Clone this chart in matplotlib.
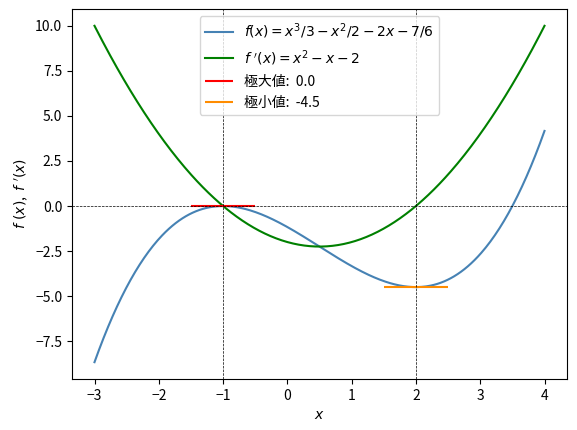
import numpy as np
import matplotlib
matplotlib.use("Agg")
import matplotlib.pyplot as plt

plt.rcParams['font.family'] = ['Noto Sans CJK JP', 'DejaVu Sans']
plt.rcParams['mathtext.fontset'] = 'dejavusans'

# polynomial coefficients (highest power first)
f_coeffs = [1/3, -1/2, -2, -7/6]
df_coeffs = [1, -1, -2]
x_range = [-3, 4]
crit_x = [-1, 2]
max_val = 0.0
min_val = -4.5

x = np.linspace(x_range[0], x_range[1], 400)
y = np.polyval(f_coeffs, x)
dy = np.polyval(df_coeffs, x)

fig = plt.figure(figsize=(5.77, 4.30), dpi=100)
ax = fig.add_axes([72/577, 1-379/430, (567-72)/577, (379-9)/430])

ax.plot(x, y, color='steelblue', label=r'$f(x) = x^3/3 - x^2/2 - 2x - 7/6$')
ax.plot(x, dy, color='green', label=r"$f\ '(x) = x^2 - x - 2$")
ax.hlines(max_val, crit_x[0]-0.5, crit_x[0]+0.5, color='red', label=f'極大値:  {max_val:.1f}')
ax.hlines(min_val, crit_x[1]-0.5, crit_x[1]+0.5, color='darkorange', label=f'極小値:  {min_val:.1f}')
ax.axhline(0, color='black', linestyle='--', linewidth=0.5)
for c in crit_x:
    ax.axvline(c, color='black', linestyle='--', linewidth=0.5)

ax.set_xlabel(r'$x$')
ax.set_ylabel(r"$f\ (x)$,  $f\ '(x)$")
ax.legend(loc='upper center')
fig.savefig('out.png', dpi=100)
